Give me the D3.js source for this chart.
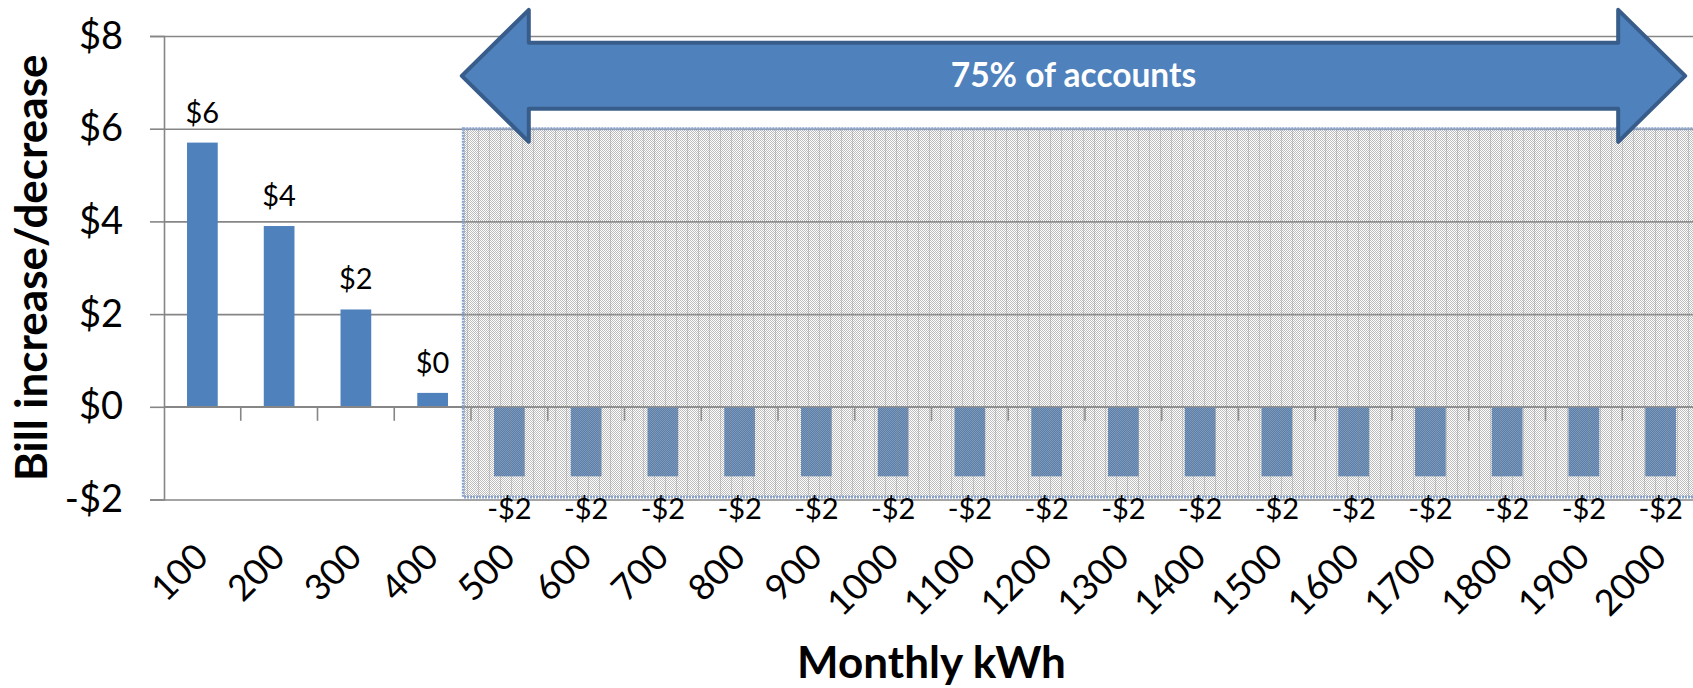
<!DOCTYPE html>
<html>
<head>
<meta charset="utf-8">
<script src="https://cdn.jsdelivr.net/npm/d3@7"></script>
<style>
  body { margin: 0; background: #fff; }
  svg { display: block; font-family: Lato, "Open Sans", sans-serif; }
</style>
</head>
<body>
<svg id="canvas"></svg>
<script>
// chart values
const kwh = ["100", "200", "300", "400", "500", "600", "700", "800", "900", "1000",
             "1100", "1200", "1300", "1400", "1500", "1600", "1700", "1800", "1900", "2000"]
const billChange = [5.7, 3.9, 2.1, 0.3, -1.5, -1.5, -1.5, -1.5, -1.5, -1.5,
                    -1.5, -1.5, -1.5, -1.5, -1.5, -1.5, -1.5, -1.5, -1.5, -1.5]
const yTicks = [-2, 0, 2, 4, 6, 8]
const shadedFrom = "500"
const shadedTo = "2000"
const arrowText = "75% of accounts"
const xTitle = "Monthly kWh"
const yTitle = "Bill increase/decrease"

const width = 1693
const height = 688
const plot = { left: 164, right: 1699, top: 36, bottom: 499.5 }

const barColor = "#4f81bd"
const gridColor = "#868686"

let canvas = d3.select("#canvas")
    .attr("width", width)
    .attr("height", height)

let xScale
let yScale

const money = (v) => (v < 0 ? "-" : "") + "$" + Math.round(Math.abs(v))

let generateScales = () => {
    xScale = d3.scaleBand()
        .domain(kwh)
        .range([plot.left, plot.right])
        .paddingInner(0.6)
        .paddingOuter(0.3)
    yScale = d3.scaleLinear()
        .domain([-2, 8])
        .range([plot.bottom, plot.top])
}

let defs = canvas.append("defs")

let makePatterns = () => {
    // fine dither like the office "dotted" fill, half the pixels see-through
    let dots = defs.append("pattern")
        .attr("id", "dots")
        .attr("patternUnits", "userSpaceOnUse")
        .attr("width", 2).attr("height", 2)
    dots.append("rect").attr("x", 0).attr("y", 0).attr("width", 1).attr("height", 1)
        .attr("fill", "#a0a0a0").attr("fill-opacity", 0.7)
    dots.append("rect").attr("x", 1).attr("y", 1).attr("width", 1).attr("height", 1)
        .attr("fill", "#a0a0a0").attr("fill-opacity", 0.7)

    let stripes = defs.append("pattern")
        .attr("id", "stripes")
        .attr("patternUnits", "userSpaceOnUse")
        .attr("width", 11).attr("height", 4)
    stripes.append("rect").attr("x", 5).attr("y", 0).attr("width", 1).attr("height", 4)
        .attr("fill", "#8a8a8a").attr("fill-opacity", 0.35)
}

let drawGrid = () => {
    let grid = d3.axisLeft(yScale)
        .tickValues(yTicks)
        .tickSize(-(plot.right - plot.left))
        .tickFormat("")
    canvas.append("g")
        .attr("class", "grid")
        .attr("transform", `translate(${plot.left}, 0)`)
        .call(grid)
        .call(g => g.select(".domain").remove())
        .call(g => g.selectAll("line").attr("stroke", gridColor).attr("stroke-width", 1.6))
}

let drawBars = () => {
    canvas.append("g")
        .selectAll("rect")
        .data(billChange)
        .enter()
        .append("rect")
        .attr("class", "bar")
        .attr("x", (d, i) => xScale(kwh[i]))
        .attr("width", xScale.bandwidth())
        .attr("y", (d) => yScale(Math.max(0, d)))
        .attr("height", (d) => Math.abs(yScale(d) - yScale(0)))
        .attr("fill", barColor)
}

let drawAxes = () => {
    let yAxis = d3.axisLeft(yScale)
        .tickValues(yTicks)
        .tickSize(14)
        .tickPadding(27)
        .tickFormat(money)

    canvas.append("g")
        .attr("id", "y-axis")
        .attr("transform", `translate(${plot.left}, 0)`)
        .call(yAxis)
        .call(g => g.selectAll("line").attr("stroke", gridColor).attr("stroke-width", 1.6))
        .call(g => g.select(".domain").attr("stroke", gridColor).attr("stroke-width", 1.6))
        .call(g => g.selectAll("text")
            .attr("font-family", "Lato, sans-serif")
            .attr("font-size", 38)
            .attr("fill", "#000"))

    // category axis crosses at $0, ticks sit between categories
    let xg = canvas.append("g").attr("id", "x-axis")
    xg.append("line")
        .attr("x1", plot.left).attr("x2", plot.right)
        .attr("y1", yScale(0)).attr("y2", yScale(0))
        .attr("stroke", gridColor).attr("stroke-width", 1.6)
    let step = xScale.step()
    xg.selectAll(".tick-mark")
        .data(kwh)
        .enter()
        .append("line")
        .attr("class", "tick-mark")
        .attr("x1", (d) => xScale(d) + xScale.bandwidth() / 2 + step / 2)
        .attr("x2", (d) => xScale(d) + xScale.bandwidth() / 2 + step / 2)
        .attr("y1", yScale(0))
        .attr("y2", yScale(0) + 14)
        .attr("stroke", gridColor).attr("stroke-width", 1.6)
}

let drawShade = () => {
    let step = xScale.step()
    let x0 = xScale(shadedFrom) - step * 0.4
    let x1 = xScale(shadedTo) + step
    let y0 = yScale(6)
    let y1 = yScale(-2) - 2.5
    canvas.append("rect")
        .attr("x", x0).attr("y", y0)
        .attr("width", x1 - x0).attr("height", y1 - y0)
        .attr("fill", "url(#dots)")
        .attr("shape-rendering", "crispEdges")
    canvas.append("rect")
        .attr("x", x0).attr("y", y0)
        .attr("width", x1 - x0).attr("height", y1 - y0)
        .attr("fill", "url(#stripes)")
        .attr("stroke", "#8aa3cc")
        .attr("stroke-width", 3)
        .attr("stroke-dasharray", "2 1")
}

let drawLabels = () => {
    // value labels
    canvas.append("g")
        .selectAll("text")
        .data(billChange)
        .enter()
        .append("text")
        .attr("x", (d, i) => xScale(kwh[i]) + xScale.bandwidth() / 2)
        .attr("y", (d) => d >= 0 ? yScale(d) - 20 : yScale(d) + 43)
        .attr("text-anchor", "middle")
        .attr("font-size", 29)
        .attr("fill", "#000")
        .text(money)

    // rotated category labels
    canvas.append("g")
        .selectAll("text")
        .data(kwh)
        .enter()
        .append("text")
        .attr("transform", (d) => `translate(${xScale(d) + xScale.bandwidth() / 2 + 8}, 559) rotate(-45)`)
        .attr("text-anchor", "end")
        .attr("font-size", 36)
        .attr("fill", "#000")
        .text((d) => d)

    canvas.append("text")
        .attr("x", (plot.left + plot.right) / 2)
        .attr("y", 678)
        .attr("text-anchor", "middle")
        .attr("font-size", 44)
        .attr("font-weight", "bold")
        .text(xTitle)

    canvas.append("text")
        .attr("transform", `translate(47, ${(yScale(8) + yScale(-2)) / 2}) rotate(-90)`)
        .attr("text-anchor", "middle")
        .attr("font-size", 44)
        .attr("font-weight", "bold")
        .text(yTitle)
}

let drawArrow = () => {
    let step = xScale.step()
    let left = xScale(shadedFrom) - step * 0.42
    let right = xScale(shadedTo) + xScale.bandwidth() + step * 0.12
    let cy = yScale(7.14)
    let head = 67
    let headHalf = 66
    let shaftHalf = 33
    let pts = [
        [left, cy],
        [left + head, cy - headHalf],
        [left + head, cy - shaftHalf],
        [right - head, cy - shaftHalf],
        [right - head, cy - headHalf],
        [right, cy],
        [right - head, cy + headHalf],
        [right - head, cy + shaftHalf],
        [left + head, cy + shaftHalf],
        [left + head, cy + headHalf]
    ]
    canvas.append("path")
        .attr("d", d3.line()(pts) + "Z")
        .attr("fill", barColor)
        .attr("stroke", "#385d8a")
        .attr("stroke-width", 4)
        .attr("stroke-linejoin", "round")

    canvas.append("text")
        .attr("x", (left + right) / 2)
        .attr("y", cy + 11)
        .attr("text-anchor", "middle")
        .attr("font-size", 33.5)
        .attr("font-weight", "bold")
        .attr("fill", "#fff")
        .text(arrowText)
}

generateScales()
makePatterns()
drawGrid()
drawBars()
drawAxes()
drawShade()
drawLabels()
drawArrow()
</script>
</body>
</html>
